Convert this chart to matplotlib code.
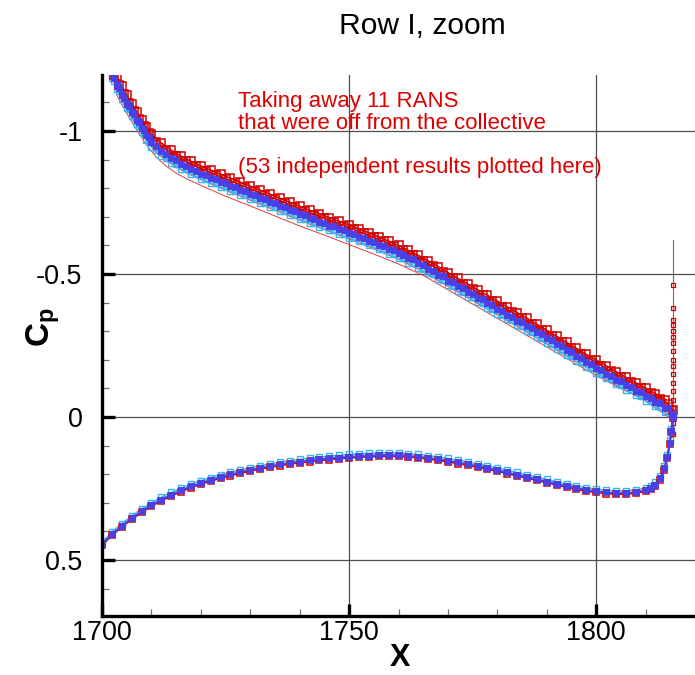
import matplotlib
matplotlib.use("Agg")
import matplotlib.pyplot as plt
from matplotlib.ticker import MultipleLocator, FixedLocator, FixedFormatter

plt.rcParams['font.family'] = ['Liberation Sans', 'DejaVu Sans']
plt.rcParams['axes.unicode_minus'] = False
plt.rcParams['mathtext.fontset'] = 'custom'
plt.rcParams['mathtext.rm'] = 'Liberation Sans'
plt.rcParams['mathtext.bf'] = 'Liberation Sans:bold'

# ---------------- data ----------------
upper_x = [1701.5, 1702.5, 1703.5, 1704.5, 1705.5, 1706.5, 1707.5, 1708.5, 1709.5,
           1711, 1713, 1715, 1717, 1719, 1721, 1723, 1725, 1727, 1729, 1731, 1733,
           1735, 1737, 1739, 1741, 1743, 1745, 1747, 1749, 1751, 1753, 1755, 1757,
           1759, 1761, 1763, 1765, 1767, 1769, 1771, 1773, 1775, 1777, 1779, 1781,
           1783, 1785, 1787, 1789, 1791, 1793, 1795, 1797, 1799, 1801, 1803, 1805,
           1807, 1809, 1811, 1813, 1814.5, 1815.5]
upper_blue = [-1.225, -1.185, -1.150, -1.117, -1.087, -1.058, -1.030, -1.003, -0.978,
              -0.948, -0.920, -0.898, -0.879, -0.862, -0.847, -0.832, -0.818, -0.804,
              -0.790, -0.776, -0.762, -0.748, -0.734, -0.720, -0.706, -0.693, -0.680,
              -0.667, -0.654, -0.641, -0.627, -0.613, -0.599, -0.584, -0.568, -0.551,
              -0.532, -0.512, -0.492, -0.471, -0.451, -0.431, -0.411, -0.391, -0.371,
              -0.351, -0.331, -0.311, -0.290, -0.269, -0.248, -0.227, -0.206, -0.185,
              -0.165, -0.145, -0.125, -0.106, -0.087, -0.068, -0.049, -0.032, -0.010]
upper_red = [-1.232, -1.195, -1.160, -1.128, -1.098, -1.070, -1.043, -1.017, -0.993,
             -0.962, -0.935, -0.913, -0.894, -0.877, -0.862, -0.847, -0.833, -0.819,
             -0.805, -0.791, -0.777, -0.763, -0.749, -0.735, -0.721, -0.708, -0.695,
             -0.682, -0.669, -0.656, -0.642, -0.628, -0.614, -0.599, -0.583, -0.566,
             -0.547, -0.527, -0.507, -0.486, -0.466, -0.446, -0.426, -0.406, -0.386,
             -0.366, -0.346, -0.326, -0.305, -0.284, -0.263, -0.242, -0.221, -0.200,
             -0.180, -0.160, -0.140, -0.121, -0.102, -0.083, -0.064, -0.046, -0.025]
upper_cyan = [-1.215, -1.175, -1.140, -1.106, -1.076, -1.047, -1.019, -0.992, -0.966,
              -0.935, -0.906, -0.884, -0.866, -0.849, -0.834, -0.819, -0.805, -0.791,
              -0.777, -0.763, -0.749, -0.735, -0.721, -0.707, -0.693, -0.680, -0.667,
              -0.654, -0.641, -0.628, -0.614, -0.600, -0.586, -0.571, -0.555, -0.538,
              -0.519, -0.499, -0.479, -0.458, -0.438, -0.418, -0.398, -0.378, -0.358,
              -0.338, -0.318, -0.298, -0.277, -0.256, -0.235, -0.214, -0.193, -0.172,
              -0.152, -0.132, -0.112, -0.093, -0.074, -0.055, -0.036, -0.020, -0.002]

# second group of results, sampled on other x stations
upper_x2 = [1702, 1703, 1704, 1705, 1706, 1707, 1708, 1709, 1710,
            1712, 1714, 1716, 1718, 1720, 1722, 1724, 1726, 1728, 1730, 1732, 1734,
            1736, 1738, 1740, 1742, 1744, 1746, 1748, 1750, 1752, 1754, 1756, 1758,
            1760, 1762, 1764, 1766, 1768, 1770, 1772, 1774, 1776, 1778, 1780, 1782,
            1784, 1786, 1788, 1790, 1792, 1794, 1796, 1798, 1800, 1802, 1804, 1806,
            1808, 1810, 1812, 1814]
upper_red2 = [-1.229, -1.191, -1.157, -1.126, -1.096, -1.068, -1.040, -1.014, -0.989, -0.958,
              -0.933, -0.912, -0.894, -0.878, -0.863, -0.849, -0.835, -0.821, -0.807, -0.793,
              -0.779, -0.765, -0.751, -0.737, -0.723, -0.710, -0.697, -0.684, -0.671, -0.658,
              -0.644, -0.630, -0.615, -0.600, -0.583, -0.565, -0.546, -0.526, -0.505, -0.485,
              -0.465, -0.445, -0.425, -0.405, -0.385, -0.365, -0.345, -0.324, -0.303, -0.282,
              -0.261, -0.240, -0.219, -0.199, -0.179, -0.159, -0.139, -0.120, -0.101, -0.082,
              -0.061]
upper_blue2 = [-1.201, -1.163, -1.129, -1.098, -1.068, -1.040, -1.012, -0.986, -0.961, -0.930,
               -0.905, -0.884, -0.866, -0.850, -0.835, -0.821, -0.807, -0.793, -0.779, -0.765,
               -0.751, -0.737, -0.723, -0.709, -0.695, -0.682, -0.669, -0.656, -0.643, -0.630,
               -0.616, -0.602, -0.587, -0.572, -0.555, -0.537, -0.518, -0.498, -0.477, -0.457,
               -0.437, -0.417, -0.397, -0.377, -0.357, -0.337, -0.317, -0.296, -0.275, -0.254,
               -0.233, -0.212, -0.191, -0.171, -0.151, -0.131, -0.111, -0.092, -0.073, -0.054,
               -0.033]
upper_cyan2 = [-1.185, -1.147, -1.113, -1.082, -1.052, -1.024, -0.996, -0.970, -0.945, -0.914,
               -0.889, -0.868, -0.850, -0.834, -0.819, -0.805, -0.791, -0.777, -0.763, -0.749,
               -0.735, -0.721, -0.707, -0.693, -0.679, -0.666, -0.653, -0.640, -0.627, -0.614,
               -0.600, -0.586, -0.571, -0.556, -0.539, -0.521, -0.502, -0.482, -0.461, -0.441,
               -0.421, -0.401, -0.381, -0.361, -0.341, -0.321, -0.301, -0.280, -0.259, -0.238,
               -0.217, -0.196, -0.175, -0.155, -0.135, -0.115, -0.095, -0.076, -0.057, -0.038,
               -0.017]

off_x = [1703, 1705, 1707, 1709, 1711, 1713, 1715, 1717, 1720, 1725, 1730, 1735, 1740,
         1745, 1750, 1755, 1760, 1765, 1770, 1775, 1780, 1785, 1790, 1795, 1800, 1805,
         1810, 1815.5]
off_red1 = [-1.125, -1.062, -1.005, -0.952, -0.908, -0.877, -0.853, -0.834, -0.810,
            -0.772, -0.738, -0.703, -0.668, -0.636, -0.603, -0.570, -0.535, -0.495,
            -0.445, -0.395, -0.345, -0.295, -0.245, -0.195, -0.145, -0.100, -0.060,
            0.000]
off_red2 = [-1.140, -1.078, -1.020, -0.966, -0.924, -0.896, -0.874, -0.854, -0.830,
            -0.793, -0.758, -0.723, -0.688, -0.655, -0.622, -0.588, -0.551, -0.508,
            -0.457, -0.407, -0.357, -0.306, -0.255, -0.203, -0.153, -0.102, -0.055,
            0.010]
fan_x = [1795, 1800, 1805, 1810, 1815.5]
fan_red = [-0.230, -0.178, -0.125, -0.078, -0.045]

lower_x = [1699, 1700, 1702, 1704, 1706, 1708, 1710, 1712, 1714, 1716, 1718, 1720,
           1722, 1724, 1726, 1728, 1730, 1732, 1734, 1736, 1738, 1740, 1742, 1744,
           1746, 1748, 1750, 1752, 1754, 1756, 1758, 1760, 1762, 1764, 1766, 1768,
           1770, 1772, 1774, 1776, 1778, 1780, 1782, 1784, 1786, 1788, 1790, 1792,
           1794, 1796, 1798, 1800, 1802, 1804, 1806, 1808, 1810, 1811, 1812, 1813,
           1813.8, 1814.4, 1814.9, 1815.2, 1815.5]
lower_blue = [0.468, 0.445, 0.410, 0.381, 0.354, 0.330, 0.308, 0.289, 0.272, 0.257,
              0.243, 0.231, 0.220, 0.210, 0.201, 0.193, 0.185, 0.178, 0.172, 0.166,
              0.161, 0.156, 0.152, 0.148, 0.145, 0.142, 0.139, 0.137, 0.135, 0.134,
              0.133, 0.134, 0.136, 0.139, 0.143, 0.148, 0.153, 0.159, 0.165, 0.172,
              0.179, 0.186, 0.194, 0.202, 0.210, 0.218, 0.226, 0.234, 0.242, 0.249,
              0.255, 0.260, 0.264, 0.266, 0.266, 0.263, 0.256, 0.249, 0.237, 0.215,
              0.180, 0.140, 0.090, 0.050, 0.000]
lower_cyan = [0.462, 0.438, 0.402, 0.373, 0.346, 0.322, 0.300, 0.281, 0.264, 0.249,
              0.235, 0.223, 0.212, 0.202, 0.193, 0.185, 0.177, 0.170, 0.164, 0.158,
              0.153, 0.148, 0.144, 0.140, 0.137, 0.134, 0.131, 0.129, 0.127, 0.126,
              0.125, 0.126, 0.128, 0.131, 0.135, 0.140, 0.145, 0.151, 0.157, 0.164,
              0.171, 0.178, 0.186, 0.194, 0.202, 0.210, 0.218, 0.226, 0.234, 0.241,
              0.247, 0.252, 0.256, 0.258, 0.258, 0.255, 0.248, 0.241, 0.229, 0.207,
              0.172, 0.132, 0.082, 0.042, -0.005]
lower_red = [0.472, 0.449, 0.414, 0.385, 0.358, 0.334, 0.312, 0.293, 0.276, 0.261,
             0.247, 0.235, 0.224, 0.214, 0.205, 0.197, 0.189, 0.182, 0.176, 0.170,
             0.165, 0.160, 0.156, 0.152, 0.149, 0.146, 0.143, 0.141, 0.139, 0.138,
             0.137, 0.138, 0.140, 0.143, 0.147, 0.152, 0.157, 0.163, 0.169, 0.176,
             0.183, 0.190, 0.198, 0.206, 0.214, 0.222, 0.230, 0.238, 0.246, 0.253,
             0.259, 0.264, 0.268, 0.270, 0.270, 0.267, 0.260, 0.253, 0.241, 0.219,
             0.184, 0.144, 0.094, 0.054, 0.004]

te_x = [1815.6] * 19
te_cp = [0.06, 0.02, 0.0, -0.03, -0.06, -0.09, -0.12, -0.15, -0.18, -0.20,
         -0.23, -0.26, -0.28, -0.30, -0.32, -0.34, -0.38, -0.46, -0.62]

x_ticks = [1700, 1750, 1800]
x_ticklabels = ['1700', '1750', '1800']
y_ticks = [-1.0, -0.5, 0.0, 0.5]
y_ticklabels = ['-1', '-0.5', '0', '0.5']

title = 'Row I, zoom'
note_lines = ['Taking away 11 RANS', 'that were off from the collective',
              '(53 independent results plotted here)']

# ---------------- figure ----------------
RED = '#d00000'
BLUE = '#4b3fe8'
CYAN = '#38b4ee'
LRED = '#e43a3a'

fig = plt.figure(figsize=(6.95, 6.75), dpi=100)
ax = fig.add_axes([102 / 695, 59 / 675, 593 / 695, 541 / 675])

# thin "off" red lines
for yy in (off_red1, off_red2):
    ax.plot(off_x, yy, color=LRED, lw=0.7, zorder=2)
ax.plot(fan_x, fan_red, color=LRED, lw=0.7, zorder=2)

cyan_kw = dict(color=CYAN, lw=1.0, marker='s', ms=4.0, mfc='none', mec=CYAN, mew=1.0, zorder=3)
red_kw = dict(color=RED, lw=1.2, marker='s', ms=5.5, mfc='none', mec=RED, mew=1.1, zorder=4)
blue_kw = dict(color=BLUE, lw=1.4, marker='s', ms=3.8, mfc=BLUE, mec=BLUE, mew=0.6, zorder=5)

ax.plot(upper_x, upper_cyan, **cyan_kw)
ax.plot(upper_x2, upper_cyan2, **cyan_kw)
ax.plot(lower_x, lower_cyan, **cyan_kw)

ax.plot(upper_x, upper_red, **red_kw)
ax.plot(upper_x2, upper_red2, **red_kw)
ax.plot(lower_x, lower_red, **dict(red_kw, ms=4.8))

ax.plot(upper_x, upper_blue, **blue_kw)
ax.plot(upper_x2, upper_blue2, **blue_kw)
ax.plot(lower_x, lower_blue, **blue_kw)

# trailing-edge spike
ax.plot(te_x, te_cp, color=LRED, lw=0.8, zorder=3)
ax.plot(te_x[:-1], te_cp[:-1], ls='none', marker='s', ms=3.2, mfc='none',
        mec=RED, mew=0.9, zorder=4)

ax.set_xlim(1700, 1820)
ax.set_ylim(0.696, -1.196)

ax.xaxis.set_major_locator(FixedLocator(x_ticks))
ax.xaxis.set_major_formatter(FixedFormatter(x_ticklabels))
ax.yaxis.set_major_locator(FixedLocator(y_ticks))
ax.yaxis.set_major_formatter(FixedFormatter(y_ticklabels))
ax.xaxis.set_minor_locator(MultipleLocator(10))
ax.yaxis.set_minor_locator(MultipleLocator(0.1))

ax.grid(True, which='major', color='0.3', lw=0.9, zorder=1)
ax.set_axisbelow(True)

for s in ('top', 'right'):
    ax.spines[s].set_visible(False)
for s in ('left', 'bottom'):
    ax.spines[s].set_linewidth(2.4)
    ax.spines[s].set_zorder(6)

ax.tick_params(which='major', direction='in', length=9, width=2.4, labelsize=19.4,
               color='black')
ax.tick_params(which='minor', direction='in', length=5, width=0.9, color='0.45')
ax.tick_params(axis='y', which='major', pad=14)
ax.tick_params(axis='x', which='major', pad=3)

ax.set_ylabel(r'$\mathbf{C_p}$', fontsize=24)
ax.yaxis.set_label_coords(-0.068, 0.534)
ax.set_xlabel('X', fontsize=22, fontweight='bold', va='center')
ax.xaxis.set_label_coords(0.503, -0.078)

fig.text(422 / 695, 1 - 34 / 675, title, ha='center', va='baseline', fontsize=21.6)

for txt, yv in zip(note_lines, [-1.084, -1.007, -0.853]):
    ax.text(1727.5, yv, txt, color='#dd0000', fontsize=16, ha='left', va='baseline',
            zorder=7)

fig.savefig('out.png', dpi=100)
